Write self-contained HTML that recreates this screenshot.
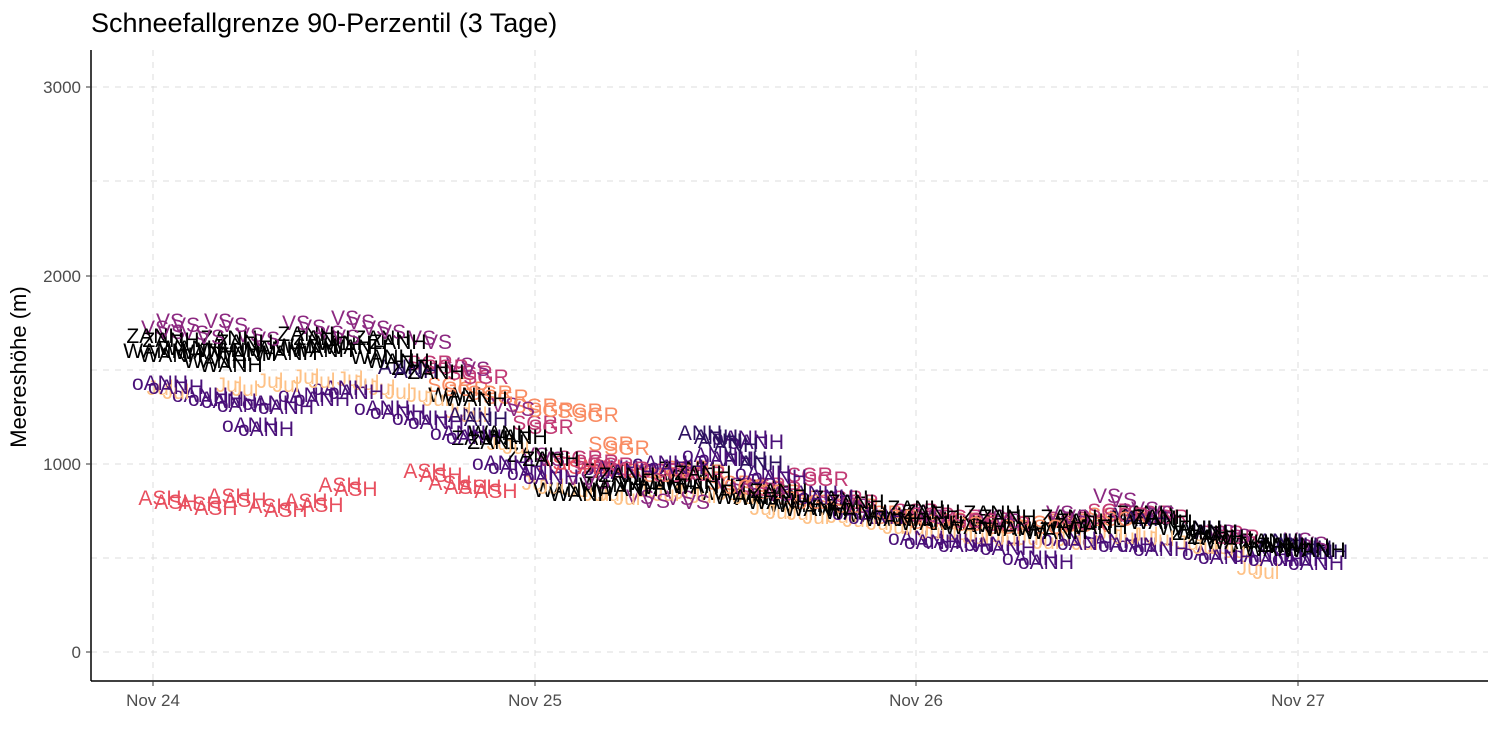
<!DOCTYPE html>
<html><head><meta charset="utf-8"><style>
body{margin:0;background:#fff}
svg{display:block}
text{font-family:"Liberation Sans",sans-serif}
.l text{font-size:21px;text-anchor:middle}
</style></head><body>
<svg width="1500" height="750" xmlns="http://www.w3.org/2000/svg" xmlns:xlink="http://www.w3.org/1999/xlink">
<rect width="1500" height="750" fill="#fff"/>
<g stroke="#dcdcdc" stroke-width="1" stroke-dasharray="6,6" fill="none">
<line x1="91" x2="1488" y1="652" y2="652"/><line x1="91" x2="1488" y1="558" y2="558"/>
<line x1="91" x2="1488" y1="464" y2="464"/><line x1="91" x2="1488" y1="370" y2="370"/>
<line x1="91" x2="1488" y1="276" y2="276"/><line x1="91" x2="1488" y1="181" y2="181"/>
<line x1="91" x2="1488" y1="87" y2="87"/>
<line x1="153" x2="153" y1="50" y2="681"/><line x1="535" x2="535" y1="50" y2="681"/>
<line x1="916" x2="916" y1="50" y2="681"/><line x1="1298" x2="1298" y1="50" y2="681"/>
</g>
<g class="l" id="L">
<g fill="#e8505f">
<text x="160" y="505">ASH</text><text x="200" y="511">ASH</text><text x="229" y="503">ASH</text><text x="270" y="513">ASH</text><text x="306" y="508">ASH</text><text x="340" y="492">ASH</text><text x="425" y="478">ASH</text><text x="450" y="490">ASH</text><text x="480" y="494">ASH</text><text x="560" y="470">ASH</text><text x="600" y="474">ASH</text>
</g>
<g fill="#fec287">
<text x="160" y="395">Jul</text><text x="229" y="392">Jul</text><text x="270" y="388">Jul</text><text x="306" y="384">Jul</text><text x="350" y="386">Jul</text><text x="382" y="395">Jul</text><text x="420" y="402">Jul</text><text x="458" y="418">Jul</text><text x="500" y="450">Jul</text><text x="535" y="490">Jul</text><text x="580" y="497">Jul</text><text x="611" y="501">Jul</text><text x="650" y="497">Jul</text><text x="687" y="499">Jul</text><text x="730" y="500">Jul</text><text x="763" y="515">Jul</text><text x="800" y="520">Jul</text><text x="840" y="523">Jul</text><text x="880" y="530">Jul</text><text x="916" y="535">Jul</text><text x="960" y="540">Jul</text><text x="992" y="542">Jul</text><text x="1030" y="545">Jul</text><text x="1069" y="546">Jul</text><text x="1110" y="540">Jul</text><text x="1145" y="542">Jul</text><text x="1190" y="550">Jul</text><text x="1221" y="554">Jul</text><text x="1250" y="575">Jul</text>
</g>
<g fill="#f98c63">
<text x="450" y="392">SGR</text><text x="490" y="400">SGR</text><text x="535" y="413">SGR</text><text x="580" y="418">SGR</text><text x="611" y="451">SGR</text><text x="650" y="478">SGR</text><text x="687" y="475">SGR</text><text x="730" y="490">SGR</text><text x="763" y="495">SGR</text><text x="800" y="505">SGR</text><text x="840" y="509">SGR</text><text x="880" y="520">SGR</text><text x="916" y="525">SGR</text><text x="960" y="527">SGR</text><text x="992" y="530">SGR</text><text x="1040" y="530">SGR</text><text x="1069" y="528">SGR</text><text x="1110" y="522">SGR</text>
</g>
<g fill="#c23b75">
<text x="430" y="370">SGR</text><text x="470" y="380">SGR</text><text x="535" y="430">SGR</text><text x="580" y="465">SGR</text><text x="611" y="472">SGR</text><text x="660" y="478">SGR</text><text x="687" y="477">SGR</text><text x="763" y="492">SGR</text><text x="810" y="482">SGR</text><text x="840" y="505">SGR</text><text x="916" y="518">SGR</text><text x="960" y="524">SGR</text><text x="992" y="527">SGR</text><text x="1069" y="526">SGR</text><text x="1110" y="518">SGR</text><text x="1150" y="520">SGR</text><text x="1221" y="540">SGR</text>
</g>
<g fill="#8c2981">
<text x="155" y="335">VS</text><text x="170" y="328">VS</text><text x="195" y="340">VS</text><text x="218" y="328">VS</text><text x="250" y="342">VS</text><text x="296" y="330">VS</text><text x="330" y="340">VS</text><text x="345" y="325">VS</text><text x="376" y="335">VS</text><text x="422" y="345">VS</text><text x="460" y="372">VS</text><text x="505" y="412">VS</text><text x="535" y="462">VS</text><text x="580" y="485">VS</text><text x="640" y="504">VS</text><text x="680" y="505">VS</text><text x="730" y="492">VS</text><text x="763" y="497">VS</text><text x="840" y="509">VS</text><text x="916" y="520">VS</text><text x="992" y="524">VS</text><text x="1060" y="520">VS</text><text x="1107" y="503">VS</text><text x="1145" y="516">VS</text><text x="1221" y="539">VS</text><text x="1298" y="547">VS</text>
</g>
<g fill="#4a1079">
<text x="160" y="390">oANH</text><text x="200" y="402">oANH</text><text x="229" y="408">oANH</text><text x="250" y="432">oANH</text><text x="270" y="410">oANH</text><text x="306" y="402">oANH</text><text x="340" y="395">oANH</text><text x="382" y="415">oANH</text><text x="420" y="425">oANH</text><text x="458" y="440">oANH</text><text x="500" y="470">oANH</text><text x="535" y="480">oANH</text><text x="611" y="475">oANH</text><text x="660" y="470">oANH</text><text x="710" y="462">oANH</text><text x="740" y="445">oANH</text><text x="763" y="480">oANH</text><text x="810" y="500">oANH</text><text x="860" y="520">oANH</text><text x="916" y="545">oANH</text><text x="950" y="548">oANH</text><text x="992" y="551">oANH</text><text x="1030" y="565">oANH</text><text x="1069" y="546">oANH</text><text x="1110" y="548">oANH</text><text x="1145" y="552">oANH</text><text x="1210" y="560">oANH</text><text x="1260" y="562">oANH</text><text x="1300" y="566">oANH</text>
</g>
<g fill="#2d1160">
<text x="720" y="448">ANH</text><text x="745" y="466">ANH</text><text x="700" y="440">ANH</text><text x="1130" y="522">ANH</text><text x="1200" y="535">ANH</text><text x="1310" y="555">ANH</text><text x="1280" y="548">ANH</text><text x="400" y="374">ANH</text><text x="470" y="422">ANH</text>
</g>
<g fill="#000">
<text x="155" y="343">ZANH</text><text x="229" y="345">ZANH</text><text x="306" y="341">ZANH</text><text x="382" y="345">ZANH</text><text x="420" y="375">ZANH</text><text x="480" y="445">ZANH</text><text x="535" y="462">ZANH</text><text x="611" y="478">ZANH</text><text x="687" y="476">ZANH</text><text x="763" y="494">ZANH</text><text x="840" y="505">ZANH</text><text x="916" y="515">ZANH</text><text x="992" y="520">ZANH</text><text x="1069" y="524">ZANH</text><text x="1145" y="520">ZANH</text><text x="1200" y="540">ZANH</text><text x="1270" y="548">ZANH</text>
<text x="155" y="358">WANH</text><text x="190" y="355">WANH</text><text x="229" y="357">WANH</text><text x="215" y="368">WANH</text><text x="270" y="356">WANH</text><text x="306" y="353">WANH</text><text x="340" y="350">WANH</text><text x="382" y="364">WANH</text><text x="460" y="402">WANH</text><text x="500" y="440">WANH</text><text x="565" y="497">WANH</text><text x="611" y="492">WANH</text><text x="650" y="490">WANH</text><text x="687" y="489">WANH</text><text x="730" y="500">WANH</text><text x="763" y="505">WANH</text><text x="800" y="512">WANH</text><text x="840" y="515">WANH</text><text x="880" y="522">WANH</text><text x="916" y="526">WANH</text><text x="960" y="530">WANH</text><text x="1000" y="532">WANH</text><text x="1040" y="535">WANH</text><text x="1080" y="530">WANH</text><text x="1145" y="525">WANH</text><text x="1190" y="535">WANH</text><text x="1221" y="545">WANH</text><text x="1260" y="552">WANH</text><text x="1298" y="553">WANH</text>
</g>
</g>
<use xlink:href="#L" href="#L" transform="translate(16,4)"/>
<line x1="91" y1="50" x2="91" y2="681" stroke="#000" stroke-width="1.5"/>
<line x1="91" x2="1488" y1="681" y2="681" stroke="#000" stroke-width="1.5"/>
<g stroke="#333"><line x1="86" x2="91" y1="652" y2="652"/><line x1="86" x2="91" y1="464" y2="464"/><line x1="86" x2="91" y1="276" y2="276"/><line x1="86" x2="91" y1="87" y2="87"/>
<line x1="153" x2="153" y1="681" y2="686"/><line x1="535" x2="535" y1="681" y2="686"/><line x1="916" x2="916" y1="681" y2="686"/><line x1="1298" x2="1298" y1="681" y2="686"/></g>
<g font-size="17" fill="#4d4d4d" text-anchor="end">
<text x="81" y="658">0</text><text x="81" y="470">1000</text><text x="81" y="282">2000</text><text x="81" y="93">3000</text></g>
<g font-size="17" fill="#4d4d4d" text-anchor="middle">
<text x="153" y="706">Nov 24</text><text x="535" y="706">Nov 25</text><text x="916" y="706">Nov 26</text><text x="1298" y="706">Nov 27</text></g>
<text x="26" y="367" font-size="22" text-anchor="middle" transform="rotate(-90 26 367)">Meereshöhe (m)</text>
<text x="91" y="32" font-size="27">Schneefallgrenze 90-Perzentil (3 Tage)</text>
</svg>
</body></html>
